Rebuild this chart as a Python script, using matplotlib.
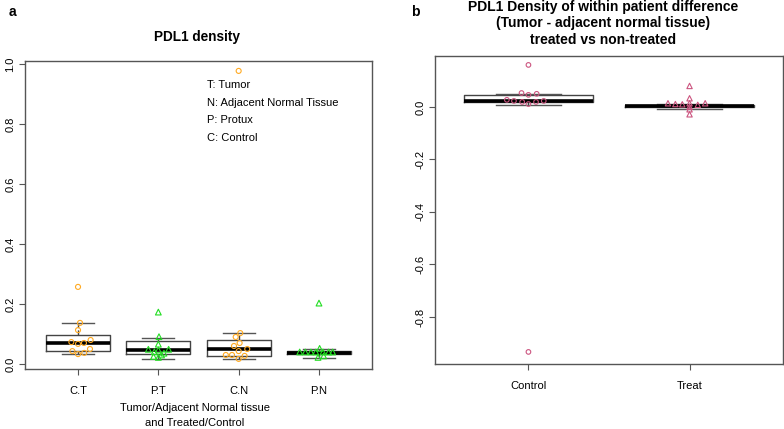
import matplotlib
matplotlib.use("Agg")
import matplotlib.pyplot as plt

plt.rcParams['font.family'] = ['Liberation Sans', 'DejaVu Sans']

# ---- panel a data ----
grupos_a = ['C.T', 'P.T', 'C.N', 'P.N']
# box stats: whislo, q1, med, q3, whishi
caja_a = [
    [0.033, 0.043, 0.070, 0.097, 0.137],
    [0.018, 0.033, 0.047, 0.077, 0.087],
    [0.017, 0.027, 0.050, 0.080, 0.103],
    [0.020, 0.033, 0.038, 0.043, 0.050],
]
puntos_ct = [0.257, 0.137, 0.113, 0.073, 0.067, 0.070, 0.080, 0.043, 0.033, 0.037, 0.050]
jit_ct = [0.0, 0.025, 0.0, -0.083, 0.0, 0.074, 0.157, -0.070, 0.0, 0.078, 0.149]
puntos_pt = [0.173, 0.091, 0.066, 0.049, 0.049, 0.047, 0.041, 0.036, 0.022, 0.030, 0.025]
jit_pt = [0.0, 0.008, 0.0, -0.124, 0.128, 0.0, -0.050, 0.070, 0.0, 0.040, -0.060]
puntos_cn = [0.103, 0.090, 0.070, 0.060, 0.043, 0.050, 0.030, 0.030, 0.017, 0.027, 0.977]
jit_cn = [0.020, -0.037, 0.012, -0.058, 0.0, 0.107, -0.160, -0.083, 0.0, 0.074, 0.0]
puntos_pn = [0.203, 0.052, 0.022, 0.027, 0.040, 0.040, 0.040, 0.040, 0.040, 0.040, 0.040]
jit_pn = [0.0, 0.008, -0.012, 0.058, -0.240, -0.170, -0.100, -0.040, 0.050, 0.120, 0.170]
leyenda_a = ['T: Tumor', 'N: Adjacent Normal Tissue', 'P: Protux', 'C: Control']

# ---- panel b data ----
grupos_b = ['Control', 'Treat']
caja_b = [
    [0.006, 0.018, 0.022, 0.045, 0.048],
    [-0.008, 0.001, 0.004, 0.006, 0.010],
]
puntos_control = [0.160, 0.053, 0.046, 0.050, 0.027, 0.023, 0.019, 0.011, 0.019, 0.023, -0.933]
jit_control = [0.0, -0.043, 0.0, 0.051, -0.134, -0.090, -0.039, 0.0, 0.047, 0.095, 0.0]
puntos_treat = [0.080, 0.033, 0.014, 0.011, 0.010, 0.014, 0.008, 0.014, -0.009, -0.028, 0.001]
jit_treat = [0.0, 0.0, -0.134, -0.088, -0.045, 0.0, 0.051, 0.097, 0.0, 0.0, 0.0]

naranja = '#FFAA22'
verde = '#22DD22'
rosa = '#CC5580'

W, H = 784, 429
fig = plt.figure(figsize=(W / 100, H / 100), dpi=100)

def caja(ax, stats, pos):
    lista = []
    for s in stats:
        lista.append({'whislo': s[0], 'q1': s[1], 'med': s[2], 'q3': s[3], 'whishi': s[4], 'fliers': []})
    ax.bxp(lista, positions=pos, widths=0.8, capwidths=0.4, showfliers=False,
           boxprops=dict(color='#444444', lw=1),
           whiskerprops=dict(color='#444444', lw=1, ls='--'),
           capprops=dict(color='#555555', lw=1),
           medianprops=dict(color='black', lw=2.6))

def estilo(ax):
    for s in ax.spines.values():
        s.set_color('#555555')
        s.set_linewidth(1)
    ax.tick_params(colors='#555555', labelcolor='black', labelsize=8, length=4)
    ax.tick_params(axis='x', pad=8)
    ax.tick_params(axis='y', pad=3)
    for t in ax.get_yticklabels():
        t.set_rotation(90)
        t.set_va('center')

# ---- panel a ----
ax1 = fig.add_axes([25 / W, 1 - 369 / H, (372 - 25) / W, (369 - 61) / H])
caja(ax1, caja_a, [1, 2, 3, 4])
ax1.scatter([1 + j for j in jit_ct], puntos_ct, s=13, facecolors='none', edgecolors=naranja, lw=0.8, zorder=3)
ax1.scatter([2 + j for j in jit_pt], puntos_pt, s=17, marker='^', facecolors='none', edgecolors=verde, lw=0.8, zorder=3)
ax1.scatter([3 + j for j in jit_cn], puntos_cn, s=13, facecolors='none', edgecolors=naranja, lw=0.8, zorder=3)
ax1.scatter([4 + j for j in jit_pn], puntos_pn, s=17, marker='^', facecolors='none', edgecolors=verde, lw=0.8, zorder=3)
ax1.set_xlim(0.34, 4.66)
ax1.set_ylim(-0.0167, 1.01)
ax1.set_xticks([1, 2, 3, 4])
ax1.set_xticklabels(grupos_a)
ax1.set_yticks([0.0, 0.2, 0.4, 0.6, 0.8, 1.0])
ax1.set_yticklabels(['0.0', '0.2', '0.4', '0.6', '0.8', '1.0'])
estilo(ax1)
for i, t in enumerate(leyenda_a):
    fig.text(207 / W, 1 - (85 + i * 17.7) / H, t, fontsize=8, va='center', ha='left')
fig.text(197 / W, 1 - 37 / H, 'PDL1 density', fontsize=9.8, fontweight='bold', ha='center', va='center')
fig.text(195 / W, 1 - 408 / H, 'Tumor/Adjacent Normal tissue', fontsize=8, ha='center', va='center')
fig.text(195 / W, 1 - 423 / H, 'and Treated/Control', fontsize=8, ha='center', va='center')
fig.text(12 / W, 1 - 12 / H, 'a', fontsize=10, fontweight='bold', ha='center', va='center')

# ---- panel b ----
ax2 = fig.add_axes([435 / W, 1 - 364 / H, (783 - 435) / W, (364 - 56) / H])
caja(ax2, caja_b, [1, 2])
ax2.scatter([1 + j for j in jit_control], puntos_control, s=11, facecolors='none', edgecolors=rosa, lw=0.8, zorder=3)
ax2.scatter([2 + j for j in jit_treat], puntos_treat, s=15, marker='^', facecolors='none', edgecolors=rosa, lw=0.8, zorder=3)
ax2.set_xlim(0.42, 2.58)
ax2.set_ylim(-0.979, 0.194)
ax2.set_xticks([1, 2])
ax2.set_xticklabels(grupos_b)
ax2.set_yticks([0.0, -0.2, -0.4, -0.6, -0.8])
ax2.set_yticklabels(['0.0', '-0.2', '-0.4', '-0.6', '-0.8'])
estilo(ax2)
titulo_b = ['PDL1 Density of within patient difference', '(Tumor - adjacent normal tissue)', 'treated vs non-treated']
for i, t in enumerate(titulo_b):
    fig.text(603 / W, 1 - (7 + i * 16.5) / H, t, fontsize=10, fontweight='bold', ha='center', va='center')
fig.text(415 / W, 1 - 12 / H, 'b', fontsize=10, fontweight='bold', ha='center', va='center')

fig.savefig('out.png', dpi=100)
